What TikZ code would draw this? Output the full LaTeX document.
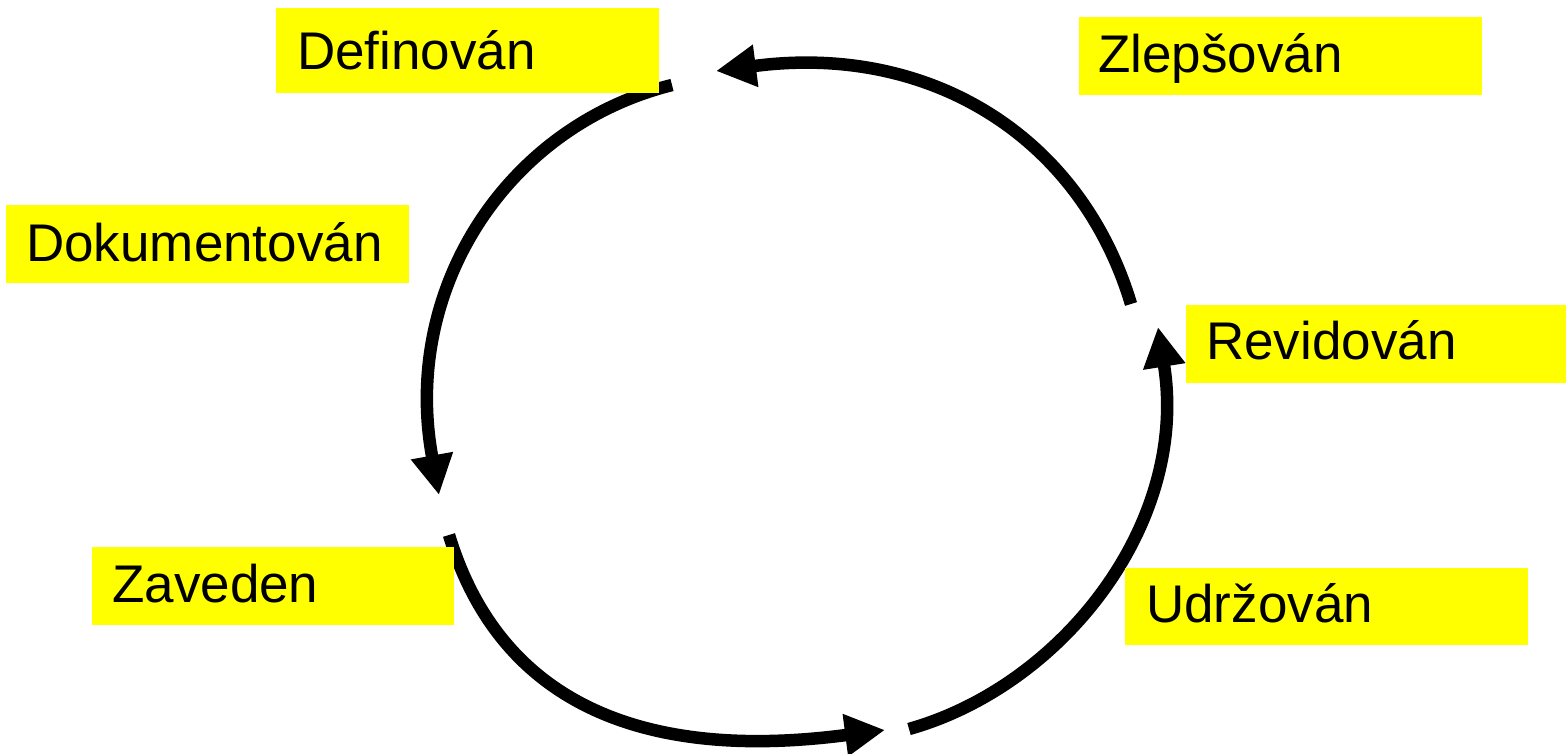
\documentclass[tikz,border=0pt]{standalone}
\usepackage{fontspec}
\setmainfont{Liberation Sans}
\usetikzlibrary{arrows.meta}
\definecolor{boxyellow}{RGB}{255,255,0}
\begin{document}
\begin{tikzpicture}[x=1pt,y=-1pt,
  cyc/.style={line width=12.5pt, black, -{Triangle[length=40pt,width=40pt]}},
  box/.style={fill=boxyellow, draw=none, inner sep=0pt, anchor=north west},
  lbl/.style={anchor=base west, inner sep=0pt, text=black, font=\fontsize{53}{60}\selectfont}]
\useasboundingbox (0,0) rectangle (1566,754);
% arc start points, arrow bases and arrow tips
\coordinate (a0) at (1131,304);  \coordinate (ab) at (754.5,66);  \coordinate (a1) at (716,71);
\coordinate (b0) at (672,85);    \coordinate (bb) at (432,456);   \coordinate (b1) at (439,495);
\coordinate (c0) at (449,535);   \coordinate (cb) at (846.5,735); \coordinate (c1) at (885,730);
\coordinate (d0) at (909,729);   \coordinate (db) at (1164,365);  \coordinate (d1) at (1158,327);
% arcs
\draw[cyc] (a0) .. controls (1080.4,135.6) and (929.1,43.3) .. (ab) -- (a1);
\draw[cyc] (b0) .. controls (506.7,126.4) and (401.9,288.4) .. (bb) -- (b1);
\draw[cyc] (c0) .. controls (486.7,659.4) and (588.6,768.5) .. (cb) -- (c1);
\draw[cyc] (d0) .. controls (1062.9,685.6) and (1189.0,523.1) .. (db) -- (d1);
% boxes
\node[box, minimum width=383pt, minimum height=85pt] (defbox) at (276,8) {};
\node[box, minimum width=403pt, minimum height=78pt] (zlbox) at (1079,17) {};
\node[box, minimum width=403pt, minimum height=78pt] (dokbox) at (6,205) {};
\node[box, minimum width=380pt, minimum height=78pt] (revbox) at (1186,305) {};
\node[box, minimum width=362pt, minimum height=78pt] (zavbox) at (92,547) {};
\node[box, minimum width=403pt, minimum height=77pt] (udrbox) at (1125,568) {};
% labels
\node[lbl] (def) at (297,70) {Definován};
\node[lbl] (zl) at (1098,73) {Zlepšován};
\node[lbl] (dok) at (26,261) {Dokumentován};
\node[lbl] (rev) at (1206,359) {Revidován};
\node[lbl] (zav) at (112,602) {Zaveden};
\node[lbl] (udr) at (1146,622) {Udržován};
\end{tikzpicture}
\end{document}
